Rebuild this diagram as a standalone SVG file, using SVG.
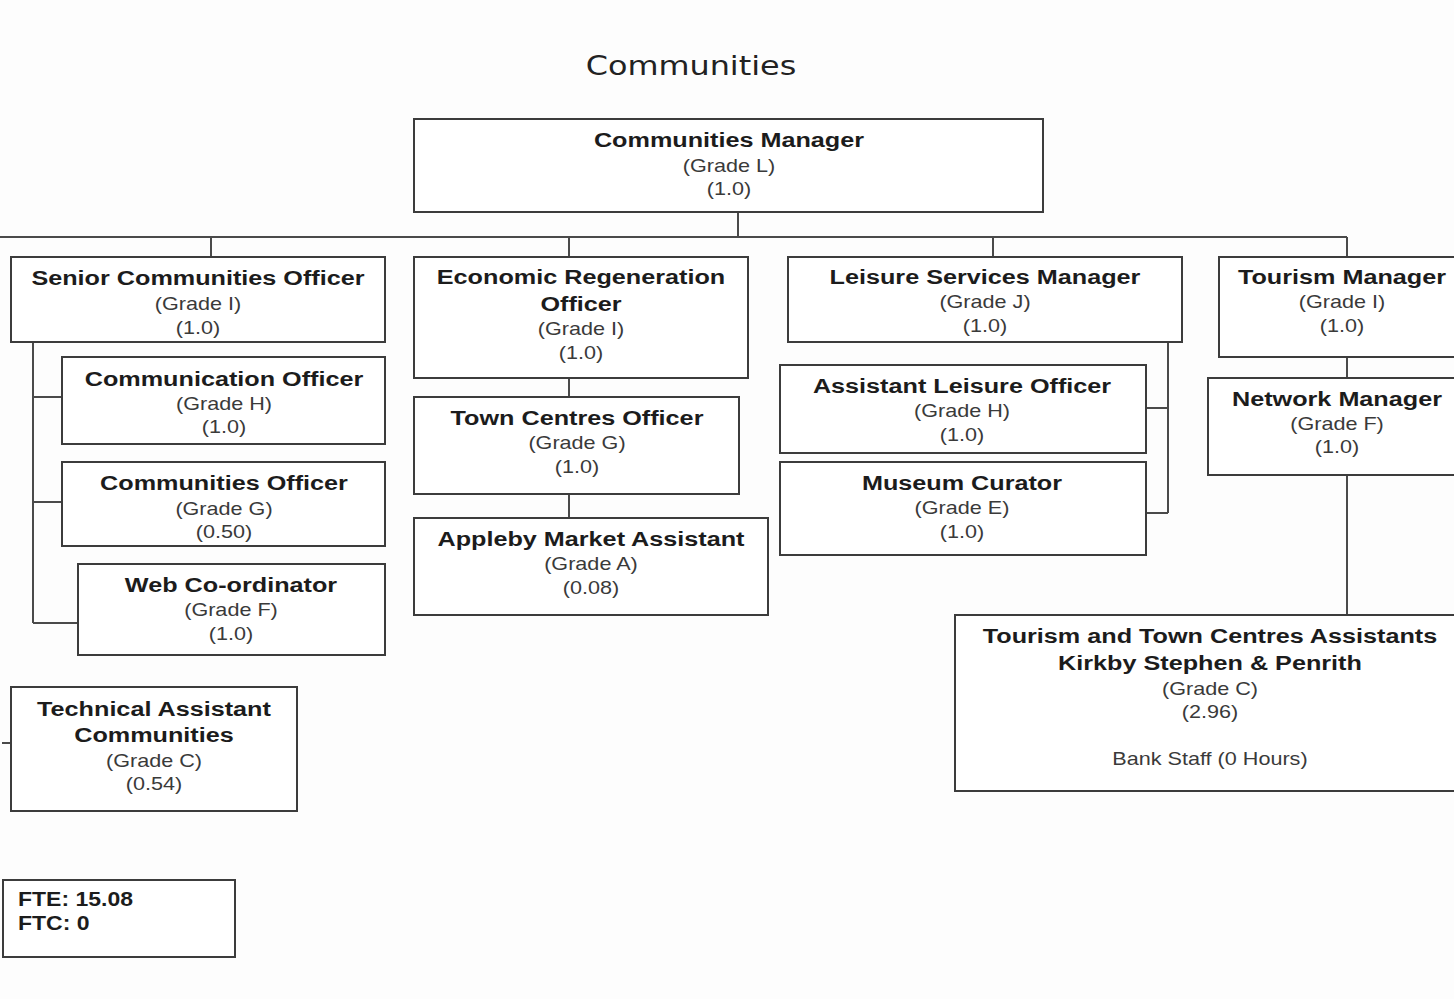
<svg xmlns="http://www.w3.org/2000/svg" width="1454" height="999" viewBox="0 0 1454 999">
<style>
text { font-family: "Liberation Sans", Arial, sans-serif; text-anchor: middle; transform-box: fill-box; transform-origin: center; transform: scaleX(1.2); }
.b { font-weight: bold; font-size: 21px; fill: #1c1c1c; }
.r { font-size: 18px; fill: #3a3a3a; }
.title { font-family: "DejaVu Sans", sans-serif; font-size: 27px; fill: #222; transform: scaleX(1.18); }
.l { text-anchor: start; transform-origin: left center; transform: scaleX(1.15); font-size: 20px; }
.box { fill: #fff; stroke: #3c3c3c; stroke-width: 2; }
.conn { fill: none; stroke: #4a4a4a; stroke-width: 2; }
</style>
<rect width="1454" height="999" fill="#fdfdfd"/>
<text class="title" x="691" y="75">Communities</text>

<g id="connectors">
<path class="conn" d="M738 212V237M0 237H1347M211 237V257M569 237V257M993 237V257M1347 237V257"/>
<path class="conn" d="M33 342V623M33 397H62M33 502H62M33 623H78"/>
<path class="conn" d="M2 743H11"/>
<path class="conn" d="M569 378V397M569 494V518"/>
<path class="conn" d="M1168 342V513M1146 408H1168M1146 513H1168"/>
<path class="conn" d="M1347 357V378M1347 475V615"/>
</g>

<g id="communities-manager">
<rect class="box" x="414" y="119" width="629" height="93"/>
<text class="b" x="729" y="147">Communities Manager</text>
<text class="r" x="729" y="172">(Grade L)</text>
<text class="r" x="729" y="195">(1.0)</text>
</g>

<g id="senior-communities-officer">
<rect class="box" x="11" y="257" width="374" height="85"/>
<text class="b" x="198" y="285">Senior Communities Officer</text>
<text class="r" x="198" y="310">(Grade I)</text>
<text class="r" x="198" y="334">(1.0)</text>
</g>

<g id="communication-officer">
<rect class="box" x="62" y="357" width="323" height="87"/>
<text class="b" x="224" y="386">Communication Officer</text>
<text class="r" x="224" y="410">(Grade H)</text>
<text class="r" x="224" y="433">(1.0)</text>
</g>

<g id="communities-officer">
<rect class="box" x="62" y="462" width="323" height="84"/>
<text class="b" x="224" y="490">Communities Officer</text>
<text class="r" x="224" y="515">(Grade G)</text>
<text class="r" x="224" y="538">(0.50)</text>
</g>

<g id="web-coordinator">
<rect class="box" x="78" y="564" width="307" height="91"/>
<text class="b" x="231" y="592">Web Co-ordinator</text>
<text class="r" x="231" y="616">(Grade F)</text>
<text class="r" x="231" y="640">(1.0)</text>
</g>

<g id="technical-assistant">
<rect class="box" x="11" y="687" width="286" height="124"/>
<text class="b" x="154" y="716">Technical Assistant</text>
<text class="b" x="154" y="742">Communities</text>
<text class="r" x="154" y="767">(Grade C)</text>
<text class="r" x="154" y="790">(0.54)</text>
</g>

<g id="economic-regeneration-officer">
<rect class="box" x="414" y="257" width="334" height="121"/>
<text class="b" x="581" y="284">Economic Regeneration</text>
<text class="b" x="581" y="311">Officer</text>
<text class="r" x="581" y="335">(Grade I)</text>
<text class="r" x="581" y="359">(1.0)</text>
</g>

<g id="town-centres-officer">
<rect class="box" x="414" y="397" width="325" height="97"/>
<text class="b" x="577" y="425">Town Centres Officer</text>
<text class="r" x="577" y="449">(Grade G)</text>
<text class="r" x="577" y="473">(1.0)</text>
</g>

<g id="appleby-market-assistant">
<rect class="box" x="414" y="518" width="354" height="97"/>
<text class="b" x="591" y="546">Appleby Market Assistant</text>
<text class="r" x="591" y="570">(Grade A)</text>
<text class="r" x="591" y="594">(0.08)</text>
</g>

<g id="leisure-services-manager">
<rect class="box" x="788" y="257" width="394" height="85"/>
<text class="b" x="985" y="284">Leisure Services Manager</text>
<text class="r" x="985" y="308">(Grade J)</text>
<text class="r" x="985" y="332">(1.0)</text>
</g>

<g id="assistant-leisure-officer">
<rect class="box" x="780" y="365" width="366" height="88"/>
<text class="b" x="962" y="393">Assistant Leisure Officer</text>
<text class="r" x="962" y="417">(Grade H)</text>
<text class="r" x="962" y="441">(1.0)</text>
</g>

<g id="museum-curator">
<rect class="box" x="780" y="462" width="366" height="93"/>
<text class="b" x="962" y="490">Museum Curator</text>
<text class="r" x="962" y="514">(Grade E)</text>
<text class="r" x="962" y="538">(1.0)</text>
</g>

<g id="tourism-manager">
<rect class="box" x="1219" y="257" width="245" height="100"/>
<text class="b" x="1342" y="284">Tourism Manager</text>
<text class="r" x="1342" y="308">(Grade I)</text>
<text class="r" x="1342" y="332">(1.0)</text>
</g>

<g id="network-manager">
<rect class="box" x="1208" y="378" width="256" height="97"/>
<text class="b" x="1337" y="406">Network Manager</text>
<text class="r" x="1337" y="430">(Grade F)</text>
<text class="r" x="1337" y="453">(1.0)</text>
</g>

<g id="tourism-town-centres-assistants">
<rect class="box" x="955" y="615" width="509" height="176"/>
<text class="b" x="1210" y="643">Tourism and Town Centres Assistants</text>
<text class="b" x="1210" y="670">Kirkby Stephen &amp; Penrith</text>
<text class="r" x="1210" y="695">(Grade C)</text>
<text class="r" x="1210" y="718">(2.96)</text>
<text class="r" x="1210" y="765">Bank Staff (0 Hours)</text>
</g>

<g id="fte-summary">
<rect class="box" x="3" y="880" width="232" height="77"/>
<text class="b l" x="18" y="906">FTE: 15.08</text>
<text class="b l" x="18" y="930">FTC: 0</text>
</g>
</svg>
